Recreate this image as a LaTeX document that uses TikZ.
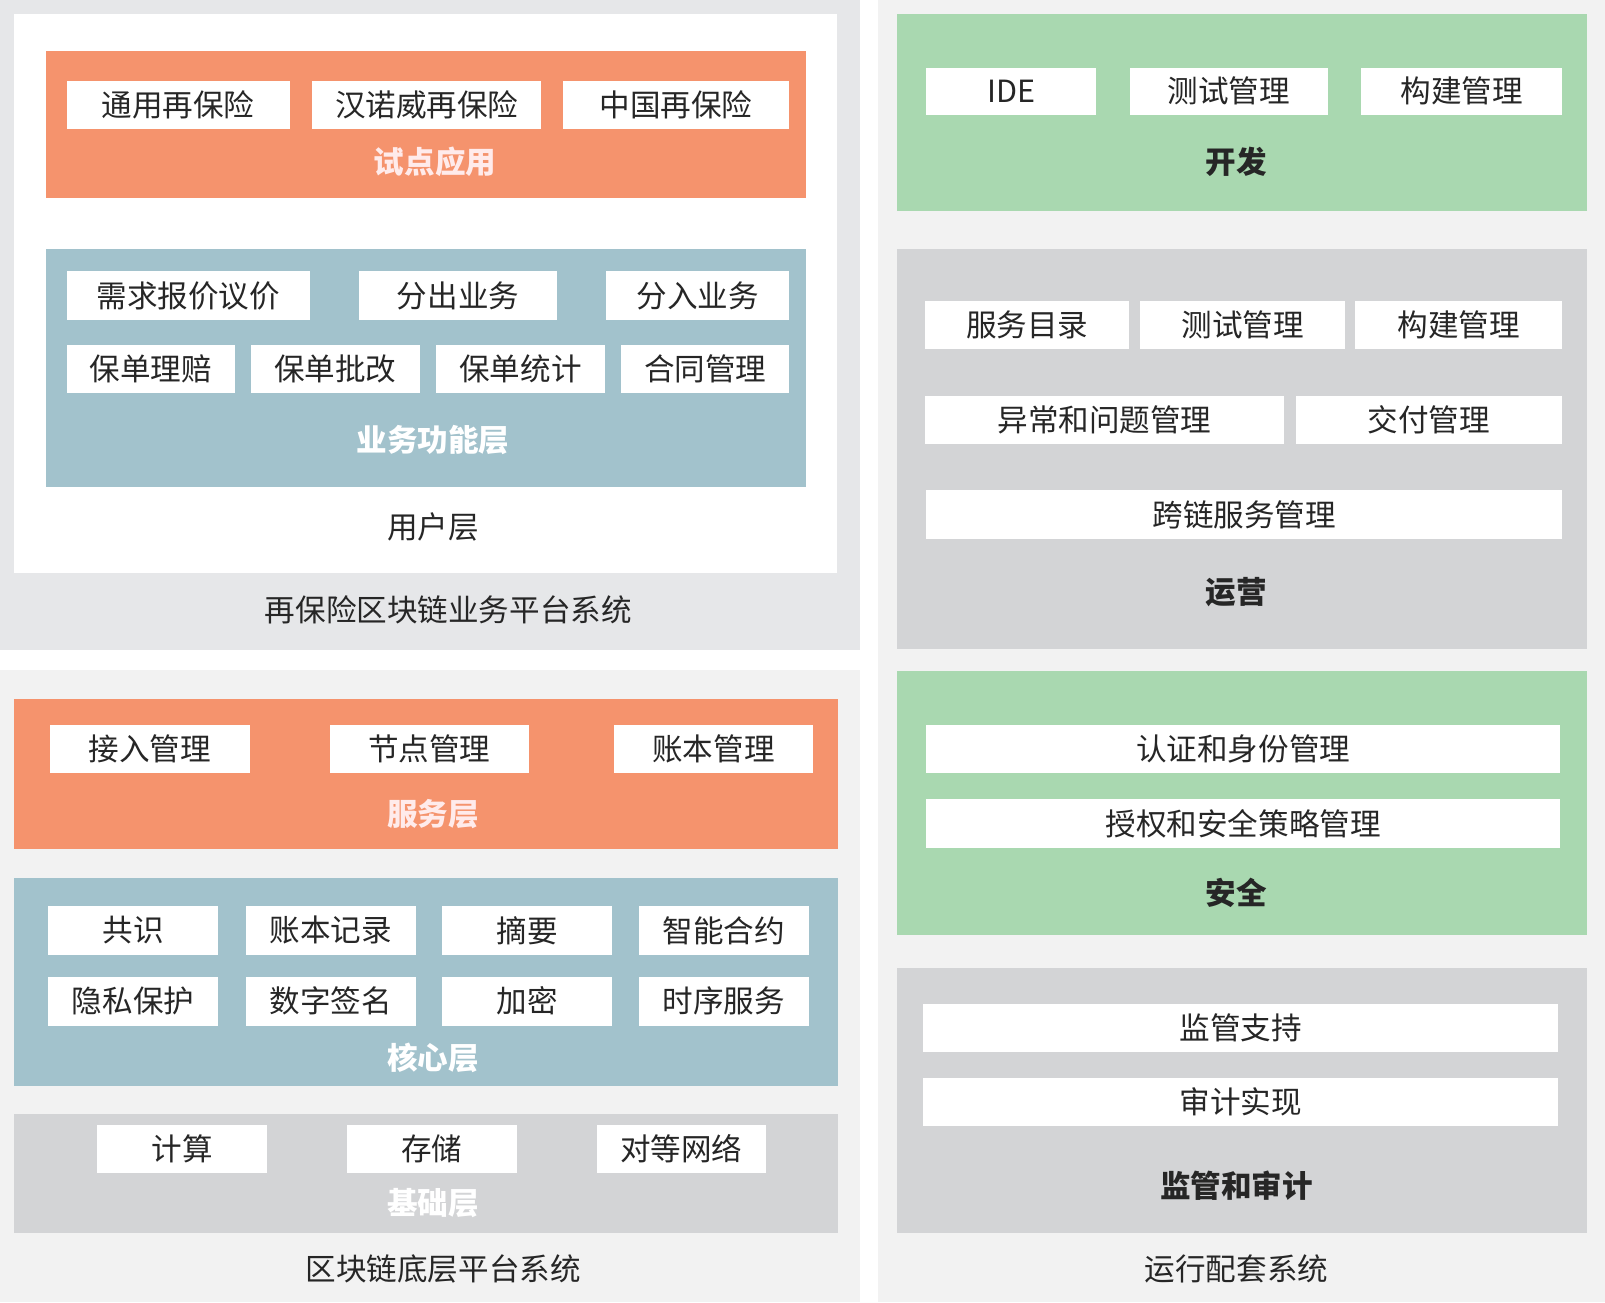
\documentclass[tikz,border=0pt]{standalone}
\usepackage{fontspec}
\setmainfont{Noto Sans CJK SC}
\definecolor{myorange}{RGB}{245,147,109}
\definecolor{myblue}{RGB}{162,194,204}
\definecolor{mygreen}{RGB}{169,216,176}
\definecolor{mygray}{RGB}{211,212,214}
\definecolor{panelA}{RGB}{230,231,233}
\definecolor{panelB}{RGB}{242,242,242}
\tikzset{
  txt/.style={font=\fontsize{17}{20}\selectfont, text=black!85},
  lbl/.style={font=\fontsize{17}{20}\selectfont\bfseries},
}
% white box: name, x1, y1, x2, y2, text
\newcommand{\wbox}[6]{%
  \fill[white] (#2,-#3) rectangle (#4,-#5);
  \node[txt] (#1) at ({(#2+#4)/2},{-(#3+#5)/2}) {#6};}
\newcommand{\panel}[5]{\fill[#1] (#2,-#3) rectangle (#4,-#5);}
\begin{document}
\begin{tikzpicture}[x=0.02cm,y=0.02cm]
\useasboundingbox (0,0) rectangle (1568,-1272);
\fill[white] (0,0) rectangle (1568,-1272);

%%% left top
\panel{panelA}{0}{0}{840}{635}
\panel{white}{14}{14}{818}{560}
\panel{myorange}{45}{50}{787}{193}
\wbox{a1}{65}{79}{283}{126}{通用再保险}
\wbox{a2}{305}{79}{529}{126}{汉诺威再保险}
\wbox{a3}{550}{79}{771}{126}{中国再保险}
\node[lbl, text=white!92!red] (app) at (425,-158) {试点应用};
\panel{myblue}{45}{243}{787}{476}
\wbox{b1}{65}{265}{303}{313}{需求报价议价}
\wbox{b2}{351}{265}{544}{313}{分出业务}
\wbox{b3}{592}{265}{771}{313}{分入业务}
\wbox{b4}{65}{337}{230}{384}{保单理赔}
\wbox{b5}{245}{337}{410}{384}{保单批改}
\wbox{b6}{426}{337}{591}{384}{保单统计}
\wbox{b7}{607}{337}{771}{384}{合同管理}
\node[lbl, text=white] (biz) at (423,-430) {业务功能层};
\node[txt] (user) at (423,-515) {用户层};
\node[txt] (sysA) at (438,-596) {再保险区块链业务平台系统};

%%% left bottom
\panel{panelB}{0}{655}{840}{1272}
\panel{myorange}{14}{683}{819}{829}
\wbox{c1}{49}{708}{244}{755}{接入管理}
\wbox{c2}{322}{708}{517}{755}{节点管理}
\wbox{c3}{600}{708}{794}{755}{账本管理}
\node[lbl, text=white!92!red] (svc) at (423,-795) {服务层};
\panel{myblue}{14}{858}{819}{1061}
\wbox{d1}{47}{885}{213}{933}{共识}
\wbox{d2}{240}{885}{406}{933}{账本记录}
\wbox{d3}{432}{885}{598}{933}{摘要}
\wbox{d4}{624}{885}{790}{933}{智能合约}
\wbox{d5}{47}{954}{213}{1002}{隐私保护}
\wbox{d6}{240}{954}{406}{1002}{数字签名}
\wbox{d7}{432}{954}{598}{1002}{加密}
\wbox{d8}{624}{954}{790}{1002}{时序服务}
\node[lbl, text=white] (core) at (423,-1033) {核心层};
\panel{mygray}{14}{1088}{819}{1205}
\wbox{e1}{95}{1099}{261}{1146}{计算}
\wbox{e2}{339}{1099}{505}{1146}{存储}
\wbox{e3}{583}{1099}{748}{1146}{对等网络}
\node[lbl, text=white] (base) at (423,-1175) {基础层};
\node[txt] (sysB) at (433,-1240) {区块链底层平台系统};

%%% right
\panel{panelB}{858}{0}{1568}{1272}
\panel{mygreen}{876}{14}{1550}{206}
\wbox{f1}{905}{66}{1071}{112}{IDE}
\wbox{f2}{1104}{66}{1297}{112}{测试管理}
\wbox{f3}{1330}{66}{1526}{112}{构建管理}
\node[lbl, text=black!85] (dev) at (1208,-158) {开发};
\panel{mygray}{876}{243}{1550}{634}
\wbox{g1}{904}{294}{1103}{341}{服务目录}
\wbox{g2}{1114}{294}{1314}{341}{测试管理}
\wbox{g3}{1324}{294}{1526}{341}{构建管理}
\wbox{g4}{904}{387}{1254}{434}{异常和问题管理}
\wbox{g5}{1266}{387}{1526}{434}{交付管理}
\wbox{g6}{905}{479}{1526}{527}{跨链服务管理}
\node[lbl, text=black!85] (ops) at (1208,-578) {运营};
\panel{mygreen}{876}{656}{1550}{913}
\wbox{h1}{905}{708}{1524}{755}{认证和身份管理}
\wbox{h2}{905}{781}{1524}{828}{授权和安全策略管理}
\node[lbl, text=black!85] (sec) at (1208,-872) {安全};
\panel{mygray}{876}{946}{1550}{1205}
\wbox{i1}{902}{981}{1522}{1028}{监管支持}
\wbox{i2}{902}{1053}{1522}{1100}{审计实现}
\node[lbl, text=black!85] (aud) at (1208,-1158) {监管和审计};
\node[txt] (sysC) at (1208,-1240) {运行配套系统};
\end{tikzpicture}
\end{document}
